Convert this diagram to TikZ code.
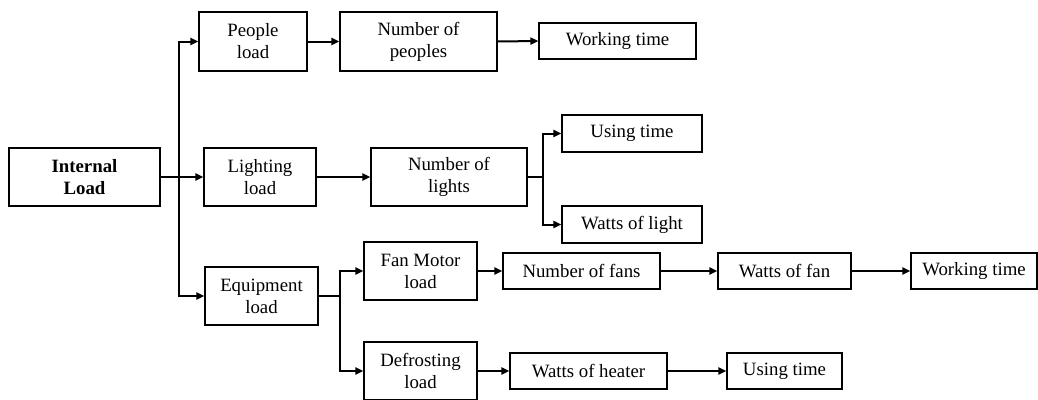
\documentclass[tikz,border=0pt]{standalone}
\usepackage{fontspec}
\setmainfont{Liberation Serif}
\newfontfamily\tnr{Liberation Serif}
\usetikzlibrary{arrows.meta}
\begin{document}
\begin{tikzpicture}[x=1pt,y=-1pt,
  box/.style={draw, line width=1.1pt, align=center, inner sep=0pt,
    font=\tnr\fontsize{18.8}{22}\selectfont},
  conn/.style={line width=2pt, -{Triangle[length=8pt,width=7pt]}},
  plain/.style={line width=2pt}]
\useasboundingbox (0,0) rectangle (1038,399);
\node[box, minimum width=151pt, minimum height=58pt] (int) at (84.5,177) {\textbf{Internal}\\\textbf{Load}};
\node[box, minimum width=108pt, minimum height=59pt] (people) at (253,41.5) {People\\load};
\node[box, minimum width=112pt, minimum height=58pt] (light) at (260,177) {Lighting\\load};
\node[box, minimum width=113pt, minimum height=58pt] (equip) at (261.5,296) {Equipment\\load};
\node[box, minimum width=157pt, minimum height=59pt] (npeople) at (418.5,41.5) {Number of\\peoples};
\node[box, minimum width=157pt, minimum height=36pt] (work1) at (617.5,41) {Working time};
\node[box, minimum width=156pt, minimum height=58pt] (nlights) at (449,177) {Number of\\lights};
\node[box, minimum width=140pt, minimum height=37pt] (using1) at (632,133.5) {Using time};
\node[box, minimum width=140pt, minimum height=37pt] (wattsl) at (632,224.5) {Watts of light};
\node[box, minimum width=113pt, minimum height=58pt] (fan) at (420.5,271) {Fan Motor\\load};
\node[box, minimum width=113pt, minimum height=58pt] (defrost) at (420.5,371) {Defrosting\\load};
\node[box, minimum width=157pt, minimum height=36pt] (nfans) at (581.5,271) {Number of fans};
\node[box, minimum width=133pt, minimum height=36pt] (wattsfan) at (784.5,271) {Watts of fan};
\node[box, minimum width=126pt, minimum height=36pt] (work2) at (974,271) {Working time};
\node[box, minimum width=157pt, minimum height=36pt] (heater) at (588.5,371) {Watts of heater};
\node[box, minimum width=115pt, minimum height=36pt] (using2) at (784.5,371) {Using time};
\coordinate (j1) at (179,177);
\coordinate (j2) at (543,177);
\coordinate (j3) at (340,296);
\draw[conn] (int.east) -- (light.west);
\draw[conn] (j1) |- (people.west);
\draw[conn] (j1) |- (equip.west);
\draw[conn] (people.east) -- (npeople.west);
\draw[conn] (npeople.east) -- (work1.west);
\draw[conn] (light.east) -- (nlights.west);
\draw[plain] (nlights.east) -- (j2);
\draw[conn] (j2) |- (using1.west);
\draw[conn] (j2) |- (wattsl.west);
\draw[plain] (equip.east) -- (j3);
\draw[conn] (j3) |- (fan.west);
\draw[conn] (j3) |- (defrost.west);
\draw[conn] (fan.east) -- (nfans.west);
\draw[conn] (nfans.east) -- (wattsfan.west);
\draw[conn] (wattsfan.east) -- (work2.west);
\draw[conn] (defrost.east) -- (heater.west);
\draw[conn] (heater.east) -- (using2.west);
\end{tikzpicture}
\end{document}
